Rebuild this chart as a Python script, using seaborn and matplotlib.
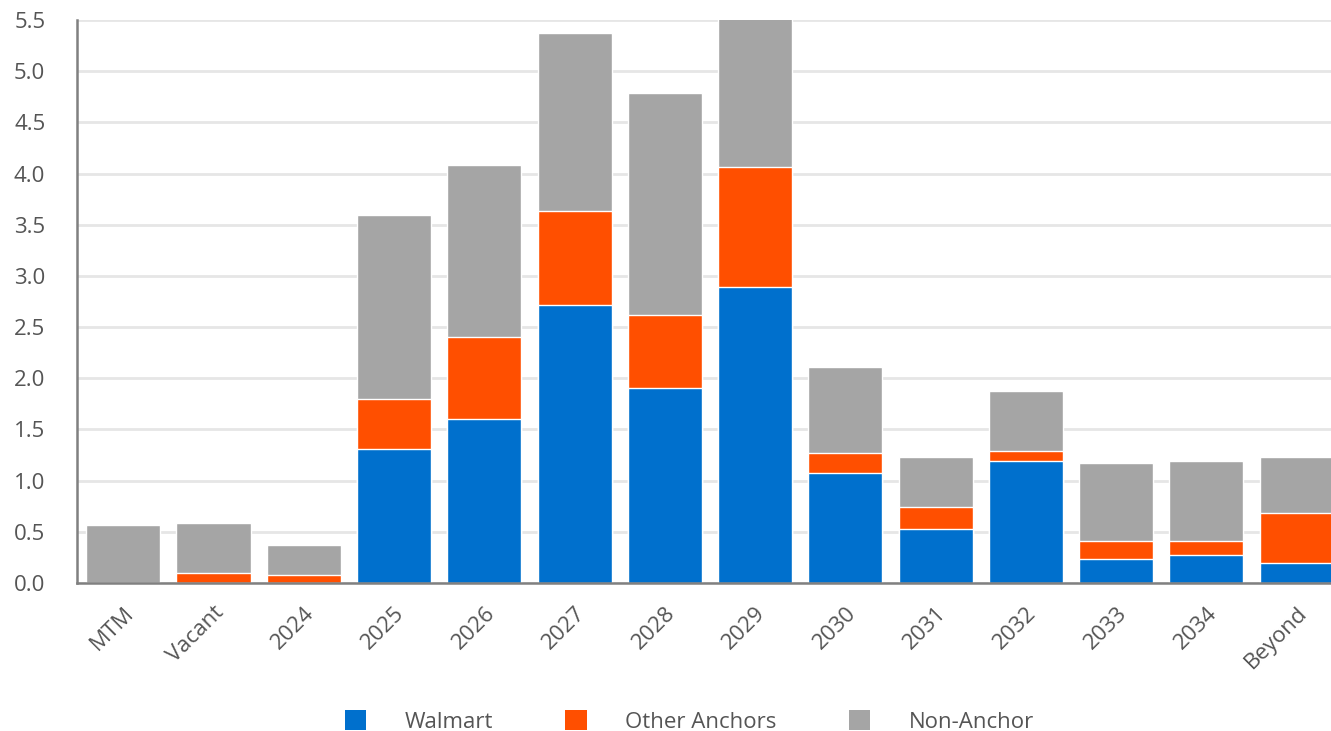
import pandas as pd
import matplotlib.pyplot as plt
import seaborn as sns
from matplotlib.patches import Patch

categories = ["MTM", "Vacant", "2024", "2025", "2026", "2027", "2028",
              "2029", "2030", "2031", "2032", "2033", "2034", "Beyond"]
walmart = [0.0, 0.0, 0.0, 1.31, 1.60, 2.72, 1.91, 2.89, 1.07, 0.53, 1.19, 0.23, 0.27, 0.20]
other_anchors = [0.0, 0.10, 0.08, 0.49, 0.80, 0.91, 0.71, 1.17, 0.20, 0.21, 0.10, 0.18, 0.14, 0.48]
non_anchor = [0.57, 0.49, 0.29, 1.80, 1.68, 1.74, 2.17, 1.55, 0.84, 0.49, 0.59, 0.76, 0.78, 0.55]

df = pd.DataFrame({"year": categories, "Walmart": walmart,
                   "Other Anchors": other_anchors, "Non-Anchor": non_anchor})
df["c1"] = df["Walmart"]
df["c2"] = df["c1"] + df["Other Anchors"]
df["c3"] = df["c2"] + df["Non-Anchor"]

colors = {"Walmart": "#0070CD", "Other Anchors": "#FF4F00", "Non-Anchor": "#A5A5A5"}

sns.set_style("white")
plt.rcParams["font.family"] = ["Open Sans", "DejaVu Sans"]

fig = plt.figure(figsize=(13.31, 7.31), dpi=100)
ax = fig.add_axes([0.058, 0.2025, 0.942, 0.770])

# stacked bars: draw cumulative totals from the top down
for col, name in [("c3", "Non-Anchor"), ("c2", "Other Anchors"), ("c1", "Walmart")]:
    sns.barplot(data=df, x="year", y=col, color=colors[name], width=0.82,
                edgecolor="white", linewidth=1, saturation=1, ax=ax, zorder=2)

ax.set_ylim(0, 5.5)
ax.set_xlim(-0.51, 13.38)
ax.set_yticks([i * 0.5 for i in range(12)])
ax.set_yticklabels([f"{i * 0.5:.1f}" for i in range(12)])
ax.set_xlabel("")
ax.set_ylabel("")
ax.grid(axis="y", color="#E6E6E6", linewidth=2, zorder=0)
ax.set_axisbelow(True)

for s in ["top", "right"]:
    ax.spines[s].set_visible(False)
for s in ["left", "bottom"]:
    ax.spines[s].set_color("#808080")
    ax.spines[s].set_linewidth(1.8)

ax.tick_params(axis="both", colors="#808080", length=8, width=1.5,
               labelcolor="#555555", labelsize=16)
ax.tick_params(axis="y", pad=15)
ax.tick_params(axis="x", pad=6)
plt.setp(ax.get_xticklabels(), rotation=45, ha="right", rotation_mode="anchor")

handles = [Patch(facecolor=colors[n], edgecolor="none", label=n)
           for n in ["Walmart", "Other Anchors", "Non-Anchor"]]
fig.legend(handles=handles, loc="center", bbox_to_anchor=(0.518, 0.013), ncol=3,
           frameon=False, fontsize=16, handlelength=0.95, handleheight=0.95,
           handletextpad=1.75, columnspacing=3.25, labelcolor="#555555")

fig.savefig("out.png", dpi=100)
